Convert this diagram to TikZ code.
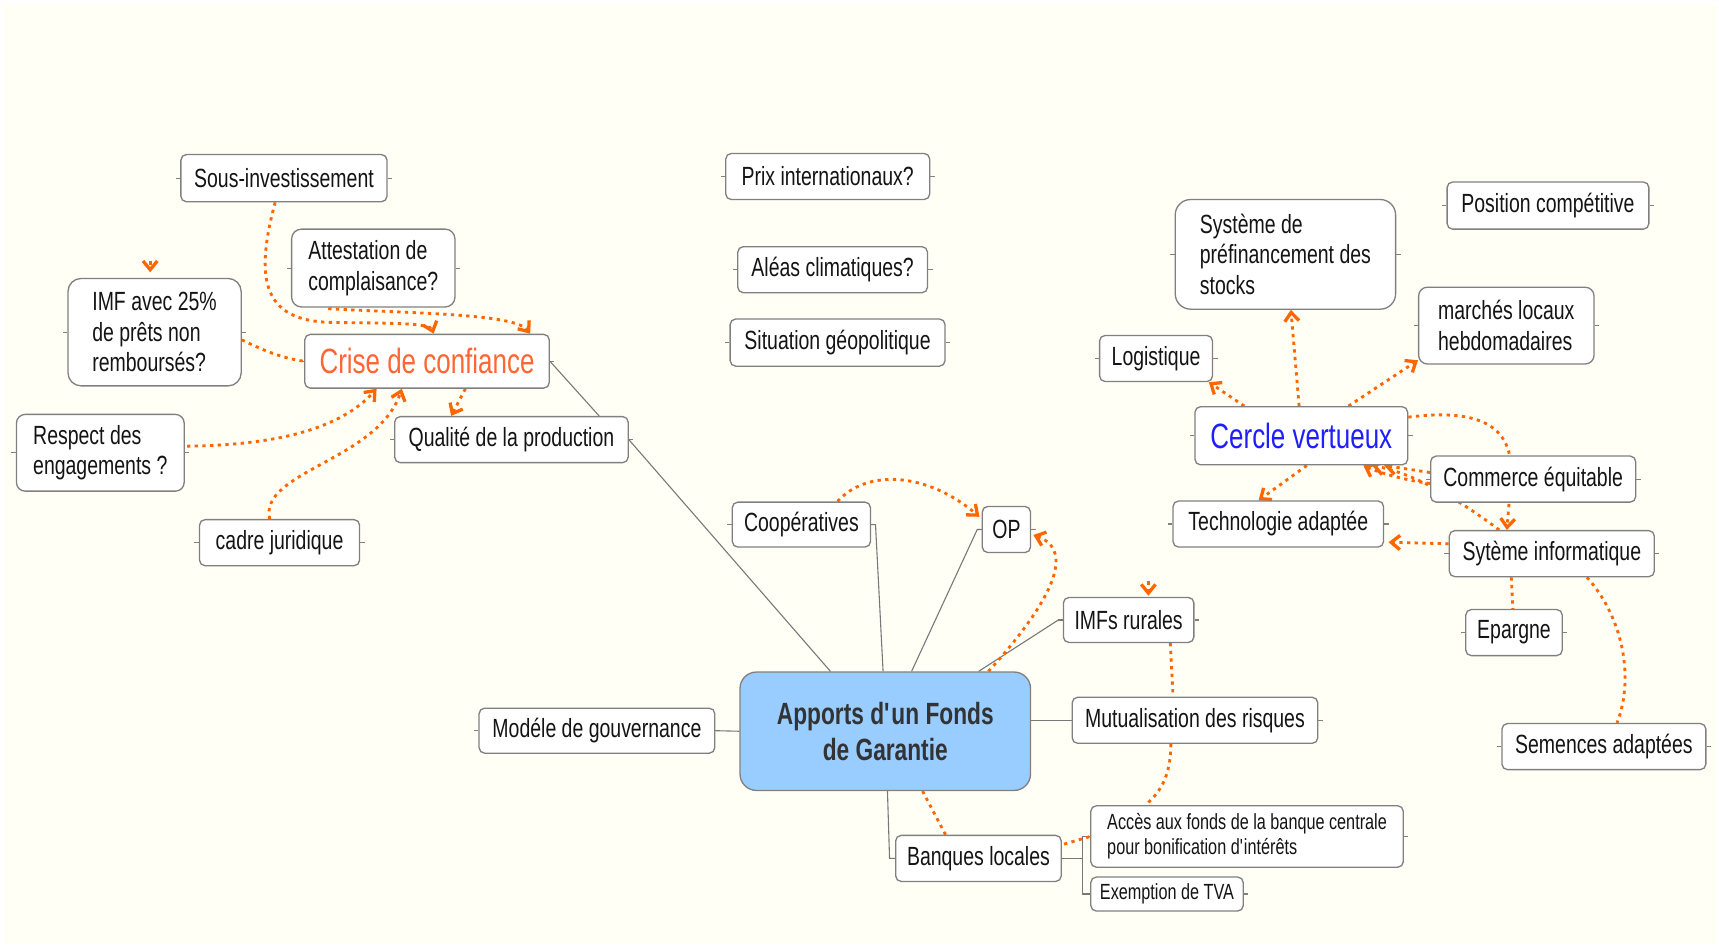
\documentclass[tikz,border=0pt]{standalone}
\usepackage{fontspec}
\setmainfont{Liberation Sans}[FakeStretch=0.74]
\usetikzlibrary{arrows.meta,calc}
\definecolor{bgcream}{RGB}{255,255,246}
\definecolor{boxgray}{RGB}{128,128,128}
\definecolor{linegray}{RGB}{120,120,120}
\definecolor{relorange}{RGB}{255,102,0}
\definecolor{criseorange}{RGB}{255,102,51}
\definecolor{cercleblue}{RGB}{30,30,255}
\definecolor{centralblue}{RGB}{153,204,255}
\definecolor{txt}{RGB}{20,20,20}
\definecolor{centraltxt}{RGB}{51,51,51}
\pgfdeclarelayer{bg}
\pgfdeclarelayer{lines}
\pgfsetlayers{bg,lines,main}
\newcommand{\fsnorm}{\fontsize{24}{28}\selectfont}
\newcommand{\fsbig}{\fontsize{32}{36}\selectfont}
\newcommand{\fssmall}{\fontsize{20}{23}\selectfont}
\newcommand{\fscentral}{\fontsize{28}{33}\selectfont\bfseries}
\tikzset{
  box/.style={draw=boxgray, fill=white, line width=1.2pt, rounded corners=5pt, inner sep=0pt, text=txt, font=\fsnorm},
  multibox/.style={box, align=left},
  tree/.style={draw=linegray, line width=1pt},
  rel/.style={draw=relorange, line width=2.6pt, dash pattern=on 3pt off 4pt},
  relarrow/.style={rel, -{Straight Barb[length=8pt,width=13pt,line width=3pt]}},
  stubline/.style={draw=boxgray, line width=1pt},
}
\begin{document}
\begin{tikzpicture}[x=1pt,y=-1pt]
\begin{pgfonlayer}{bg}
\fill[white] (0,0) rectangle (1568,867);
\fill[bgcream] (3,4) rectangle (1566,861);
\end{pgfonlayer}
\useasboundingbox (0,0) rectangle (1568,867);

% ---- nodes
\node[box, minimum width=188, minimum height=43] (sous) at (259,162.5) {Sous-investissement};
\node[multibox, minimum width=149, minimum height=71, rounded corners=9pt] (attest) at (340.5,244.5) {Attestation de\\complaisance?};
\node[multibox, minimum width=158, minimum height=98, rounded corners=12pt] (imf) at (141,303) {IMF avec 25\%\\de prêts non\\remboursés?};
\node[box, minimum width=223, minimum height=49, font=\fsbig, text=criseorange] (crise) at (389.5,329.5) {Crise de confiance};
\node[multibox, minimum width=153, minimum height=70, rounded corners=8pt] (respect) at (91.5,413) {Respect des\\engagements ?};
\node[box, minimum width=213, minimum height=42] (qualite) at (466.5,401) {Qualité de la production};
\node[box, minimum width=146, minimum height=42] (cadre) at (255,495) {cadre juridique};
\node[box, minimum width=186, minimum height=42] (prix) at (755,161) {Prix internationaux?};
\node[box, minimum width=173, minimum height=42] (aleas) at (759.5,246) {Aléas climatiques?};
\node[box, minimum width=196, minimum height=43] (situation) at (764,312.5) {Situation géopolitique};
\node[multibox, minimum width=201, minimum height=100, rounded corners=14pt] (systeme) at (1172.5,232) {Système de\\préfinancement des\\stocks};
\node[box, minimum width=184, minimum height=43] (position) at (1412,187.5) {Position compétitive};
\node[multibox, minimum width=160, minimum height=70, rounded corners=8pt] (marches) at (1374,297) {marchés locaux\\hebdomadaires};
\node[box, minimum width=103, minimum height=42] (logistique) at (1054.5,327) {Logistique};
\node[box, minimum width=194, minimum height=53, font=\fsbig, text=cercleblue] (cercle) at (1187,397.5) {Cercle vertueux};
\node[box, minimum width=187, minimum height=42] (commerce) at (1398.5,437) {Commerce équitable};
\node[box, minimum width=192, minimum height=42] (techno) at (1166,478) {Technologie adaptée};
\node[box, minimum width=187, minimum height=42] (sytinfo) at (1415.5,505) {Sytème informatique};
\node[box, minimum width=88, minimum height=42] (epargne) at (1381,577) {Epargne};
\node[box, minimum width=186, minimum height=42] (semences) at (1463,681) {Semences adaptées};
\node[box, minimum width=126, minimum height=41] (coop) at (731,478.5) {Coopératives};
\node[box, minimum width=44, minimum height=42] (op) at (918,483) {OP};
\node[box, minimum width=119, minimum height=41] (imfs) at (1029.5,565.5) {IMFs rurales};
\node[box, minimum width=224, minimum height=42] (mutual) at (1090,657) {Mutualisation des risques};
\node[box, minimum width=265, minimum height=108, rounded corners=15pt, fill=centralblue, font=\fscentral, text=centraltxt, align=center] (central) at (807.5,667) {Apports d\textquotesingle un Fonds\\de Garantie};
\node[box, minimum width=215, minimum height=41] (modele) at (544.5,666.5) {Modéle de gouvernance};
\node[box, minimum width=151, minimum height=42] (banques) at (892.5,783) {Banques locales};
\node[multibox, minimum width=285, minimum height=56, font=\fssmall] (acces) at (1137.5,763) {Accès aux fonds de la banque centrale\\pour bonification d\textquotesingle intérêts};
\node[box, minimum width=139, minimum height=31, font=\fssmall] (exemption) at (1064.5,815.5) {Exemption de TVA};

\begin{pgfonlayer}{lines}
% stubs
\foreach \n in {sous,attest,imf,crise,respect,qualite,cadre,prix,aleas,situation,systeme,position,marches,logistique,cercle,commerce,techno,sytinfo,epargne,semences,coop,op,imfs,mutual,modele,banques,acces,exemption}{
  \draw[stubline] (\n.west) -- ++(-4,0);
  \draw[stubline] (\n.east) -- ++(4,0);
}
% tree connectors
\draw[tree] (crise.east) -- ($(qualite.north)+(80,0)$);
\draw[tree] (qualite.east) -- ($(central.north)+(-50,0)$);
\draw[tree] (coop.east) -- ++(4,0) -- ($(central.north)+(-2,0)$);
\draw[tree] (op.west) -- ++(-4,0) -- ($(central.north)+(24,0)$);
\draw[tree] (imfs.west) -- ++(-4,0) -- ($(central.north east)+(-48,0)$);
\draw[tree] (central.east |- mutual.west) -- (mutual.west);
\draw[tree] (central.west) -- (modele.east);
\draw[tree] ($(central.south)+(2,0)$) -- ($(banques.west)+(-5,0)$) -- (banques.west);
\draw[tree] (banques.east) -- ++(19,0) |- (acces.west);
\draw[tree] (banques.east) -- ++(19,0) |- (exemption.west);

% relationships, left cluster
\draw[relarrow] ($(sous.south)+(-8,0)$) .. controls (232,255) and (240,292) .. (300,294) .. controls (350,295) and (392,294) .. ($(crise.north)+(6,0)$);
\draw[relarrow] ($(attest.south west)+(34,1)$) .. controls (380,286) and (470,286) .. ($(crise.north east)+(-18,0)$);
\draw[rel] ($(imf.east)+(0,7)$) .. controls (245,322) and (260,327) .. (crise.west);
\draw[relarrow] ($(imf.north)+(-4,-15)$) -- ($(imf.north)+(-4,-5)$);
\draw[relarrow] ($(respect.east)+(2,-6)$) .. controls (250,406) and (310,392) .. ($(crise.south)+(-46,0)$);
\draw[relarrow] ($(cadre.north)+(-9,0)$) .. controls (236,430) and (345,420) .. ($(crise.south)+(-23,0)$);
\draw[relarrow] ($(crise.south)+(35,0)$) -- ($(qualite.north)+(-55,0)$);

% relationships, right cluster
\draw[relarrow] ($(cercle.north)+(-2,0)$) -- ($(systeme.south)+(5,0)$);
\draw[relarrow] ($(cercle.north)+(43,0)$) -- ($(marches.south west)+(0,-4)$);
\draw[relarrow] ($(cercle.north)+(-52,0)$) -- ($(logistique.south east)+(-4,0)$);
\draw[relarrow] ($(cercle.south)+(5,0)$) -- ($(techno.north)+(-18,0)$);
\draw[relarrow] ($(cercle.east)+(0,-17)$) .. controls (1360,371) and (1382,395) .. (1378,440) -- ($(sytinfo.north)+(-41,0)$);
\draw[relarrow] ($(sytinfo.north)+(-48,0)$) .. controls (1330,455) and (1290,432) .. ($(cercle.south east)+(-33,0)$);
\draw[relarrow] ($(commerce.west)+(0,-6)$) -- ($(cercle.south east)+(-22,0)$);
\draw[relarrow] ($(commerce.west)+(0,4)$) .. controls (1280,438) and (1255,430) .. ($(cercle.south east)+(-41,0)$);
\draw[relarrow] ($(sytinfo.west)+(0,-9)$) -- ($(techno.south east)+(4,-5)$);
\draw[rel] ($(sytinfo.south)+(-37,0)$) -- ($(epargne.north)+(-1,0)$);
\draw[rel] ($(sytinfo.south)+(32,0)$) .. controls (1478,560) and (1492,615) .. ($(semences.north)+(12,0)$);

% relationships, centre
\draw[relarrow] ($(coop.north)+(33,0)$) .. controls (790,428) and (845,430) .. ($(op.north west)+(-2,10)$);
\draw[relarrow] ($(central.north east)+(-39,0)$) .. controls (940,570) and (990,505) .. ($(op.east)+(2,5)$);
\draw[relarrow] ($(imfs.north)+(18,-14)$) -- ($(imfs.north)+(18,-1)$);
\draw[rel] ($(imfs.south)+(38,0)$) -- ($(mutual.north)+(-20,0)$);
\draw[rel] ($(mutual.south)+(-22,0)$) .. controls (1068,705) and (1060,722) .. ($(acces.north)+(-93,0)$);
\draw[rel] ($(central.south)+(34,0)$) -- ($(banques.north)+(-30,0)$);
\draw[rel] ($(banques.east)+(2,-13)$) -- (acces.west);
\end{pgfonlayer}
\end{tikzpicture}
\end{document}
